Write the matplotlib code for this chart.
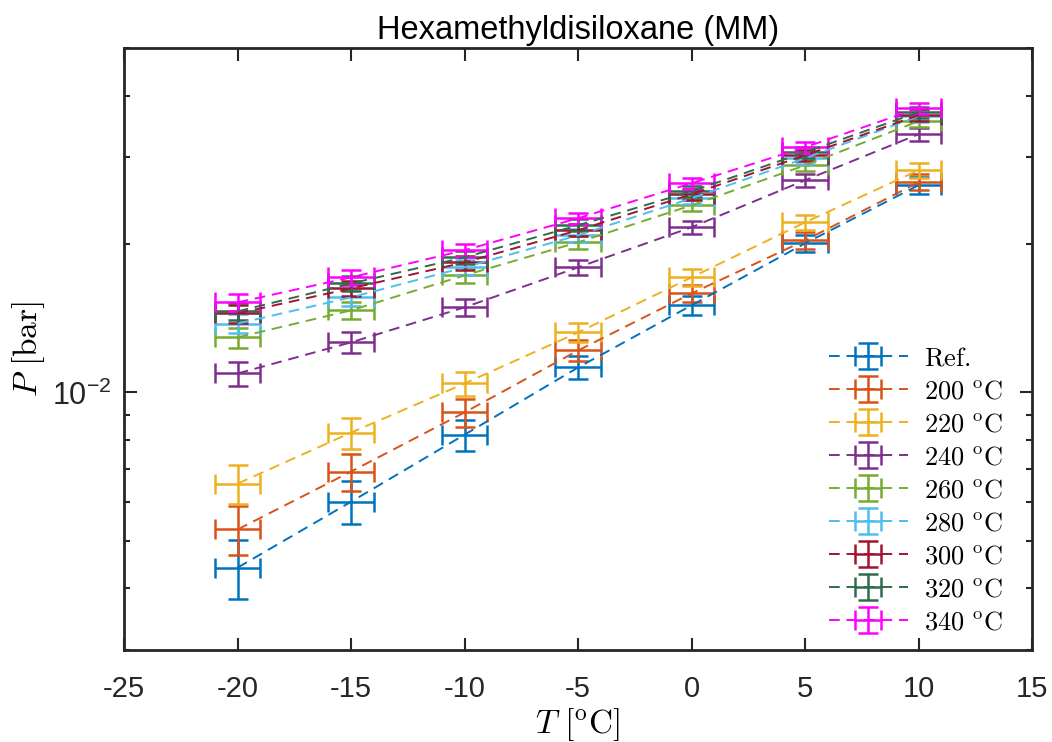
import numpy as np
import matplotlib
matplotlib.use("Agg")
import matplotlib.pyplot as plt
from matplotlib.ticker import LogLocator, NullFormatter, FixedLocator, FixedFormatter

plt.rcParams['font.family'] = ['Liberation Sans', 'DejaVu Sans']
plt.rcParams['mathtext.fontset'] = 'cm'
plt.rcParams['axes.unicode_minus'] = False

# temperature [C] and vapour pressure [bar]
T = [-20, -15, -10, -5, 0, 5, 10]
T_err = [1, 1, 1, 1, 1, 1, 1]
P_err = [0.0006, 0.0006, 0.0006, 0.0006, 0.00065, 0.0008, 0.001]

p_ref = [0.00441, 0.00600, 0.00821, 0.01124, 0.01503, 0.02008, 0.02635]
p_200 = [0.00527, 0.00691, 0.00911, 0.01217, 0.01589, 0.02036, 0.02672]
p_220 = [0.00653, 0.00829, 0.01043, 0.01324, 0.01713, 0.02215, 0.02826]
p_240 = [0.01093, 0.01264, 0.01489, 0.01795, 0.02165, 0.02697, 0.03345]
p_260 = [0.01294, 0.01468, 0.01729, 0.02018, 0.02399, 0.02892, 0.03555]
p_280 = [0.01380, 0.01560, 0.01795, 0.02085, 0.02479, 0.02989, 0.03639]
p_300 = [0.01447, 0.01627, 0.01837, 0.02135, 0.02526, 0.03031, 0.03656]
p_320 = [0.01461, 0.01665, 0.01881, 0.02185, 0.02561, 0.03074, 0.03707]
p_340 = [0.01524, 0.01713, 0.01945, 0.02258, 0.02660, 0.03147, 0.03777]

series = [p_ref, p_200, p_220, p_240, p_260, p_280, p_300, p_320, p_340]
labels = [r'$\mathrm{Ref.}$', r'$\mathrm{200\ ^oC}$', r'$\mathrm{220\ ^oC}$',
          r'$\mathrm{240\ ^oC}$', r'$\mathrm{260\ ^oC}$', r'$\mathrm{280\ ^oC}$',
          r'$\mathrm{300\ ^oC}$', r'$\mathrm{320\ ^oC}$', r'$\mathrm{340\ ^oC}$']
colors = ['#0072BD', '#D95319', '#EDB120', '#7E2F8E', '#77AC30',
          '#4DBEEE', '#A2142F', '#2F6B4F', '#FF00FF']

fig = plt.figure(figsize=(10.52, 7.42), dpi=100)
ax = fig.add_axes([0.118, 0.124, 0.863, 0.811])

for p, lab, c in zip(series, labels, colors):
    ax.errorbar(T, p, yerr=P_err, xerr=T_err, color=c, label=lab,
                linestyle='--', dashes=(5.5, 3.5), linewidth=1.4,
                elinewidth=1.8, capsize=7, capthick=1.8)

ax.set_yscale('log')
ax.set_xlim(-25, 15)
ax.set_ylim(0.003, 0.05)
ax.set_xticks(np.arange(-25, 16, 5))
ax.yaxis.set_major_locator(FixedLocator([0.01]))
ax.yaxis.set_major_formatter(FixedFormatter([r'$\mathdefault{10^{-2}}$']))
ax.yaxis.set_minor_locator(LogLocator(base=10, subs=np.arange(2, 10), numticks=20))
ax.yaxis.set_minor_formatter(NullFormatter())

ax.tick_params(which='both', direction='in', top=True, right=True,
               labelsize=21, colors='#262626', width=1.5)
ax.tick_params(which='major', length=9)
ax.tick_params(which='minor', length=4.5)
ax.tick_params(axis='x', pad=18)
ax.tick_params(axis='y', pad=9, labelsize=22)
for s in ax.spines.values():
    s.set_linewidth(2)
    s.set_color('#262626')

ax.set_title('Hexamethyldisiloxane (MM)', fontsize=23.5, pad=7)
ax.set_xlabel(r'$T\ [^\mathrm{o}\mathrm{C}]$', fontsize=24, labelpad=2)
ax.set_ylabel(r'$P\ [\mathrm{bar}]$', fontsize=24, labelpad=4)

ax.legend(loc='lower right', bbox_to_anchor=(0.985, 0.0), frameon=False,
          fontsize=19, handlelength=3.0, handletextpad=0.6, labelspacing=0.34,
          borderaxespad=0.2)

plt.savefig('out.png')
